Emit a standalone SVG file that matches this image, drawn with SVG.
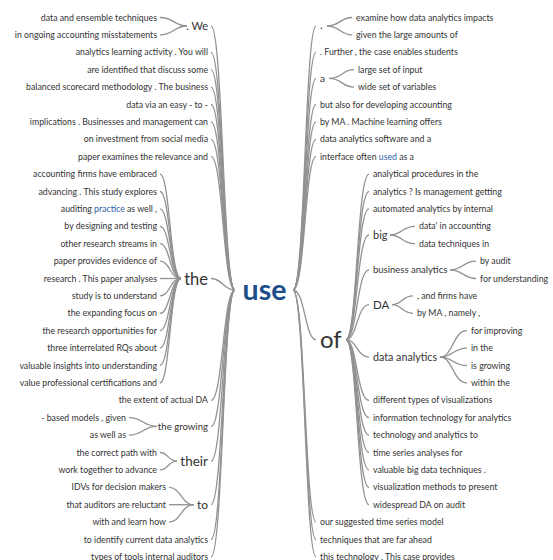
<svg xmlns="http://www.w3.org/2000/svg" width="553" height="560" viewBox="0 0 553 560">
  <style>
    text { font-family: Lato, "Open Sans", "Liberation Sans", sans-serif; fill: #333; }
    .leaf { font-size: 8.75px; }
    .l { text-anchor: end; }
    .r { text-anchor: start; }
    .hl { fill: #2f63a8; }
    .root { font-size: 28.5px; font-weight: bold; fill: #1d4e89; text-anchor: middle; }
    .conn path { fill: none; stroke: #929292; stroke-width: 1.3; }
  </style>
  <rect width="553" height="560" fill="#ffffff"/>

  <!-- connectors: cubic curves from each parent edge to each child edge -->
  <g id="connectors" class="conn">
    <!-- use -> left children -->
    <path d="M235,290 C223,290 223,26 211,26"/>
    <path d="M235,290 C223,290 223,52.3 211,52.3"/>
    <path d="M235,290 C223,290 223,69.7 211,69.7"/>
    <path d="M235,290 C223,290 223,87.1 211,87.1"/>
    <path d="M235,290 C223,290 223,104.5 211,104.5"/>
    <path d="M235,290 C223,290 223,121.9 211,121.9"/>
    <path d="M235,290 C223,290 223,139.3 211,139.3"/>
    <path d="M235,290 C223,290 223,156.7 211,156.7"/>
    <path d="M235,290 C223,290 223,278.5 211,278.5"/>
    <path d="M235,290 C223,290 223,400.3 211,400.3"/>
    <path d="M235,290 C223,290 223,426.4 211,426.4"/>
    <path d="M235,290 C223,290 223,461.2 211,461.2"/>
    <path d="M235,290 C223,290 223,504.7 211,504.7"/>
    <path d="M235,290 C223,290 223,539.5 211,539.5"/>
    <path d="M235,290 C223,290 223,556.9 211,556.9"/>
    <!-- . We -> children -->
    <path d="M187,26 C174,26 174,17.5 160,17.5"/>
    <path d="M187,26 C174,26 174,34.9 160,34.9"/>
    <!-- the -> children -->
    <path d="M181,278.5 C170,278.5 170,174.1 160,174.1"/>
    <path d="M181,278.5 C170,278.5 170,191.5 160,191.5"/>
    <path d="M181,278.5 C170,278.5 170,208.9 160,208.9"/>
    <path d="M181,278.5 C170,278.5 170,226.3 160,226.3"/>
    <path d="M181,278.5 C170,278.5 170,243.7 160,243.7"/>
    <path d="M181,278.5 C170,278.5 170,261.1 160,261.1"/>
    <path d="M181,278.5 C170,278.5 170,278.5 160,278.5"/>
    <path d="M181,278.5 C170,278.5 170,295.9 160,295.9"/>
    <path d="M181,278.5 C170,278.5 170,313.3 160,313.3"/>
    <path d="M181,278.5 C170,278.5 170,330.7 160,330.7"/>
    <path d="M181,278.5 C170,278.5 170,348.1 160,348.1"/>
    <path d="M181,278.5 C170,278.5 170,365.5 160,365.5"/>
    <path d="M181,278.5 C170,278.5 170,382.9 160,382.9"/>
    <!-- the growing -> children -->
    <path d="M157,426.4 C143,426.4 143,417.7 129,417.7"/>
    <path d="M157,426.4 C143,426.4 143,435.1 129,435.1"/>
    <!-- their -> children -->
    <path d="M177,461.2 C168,461.2 168,452.5 160,452.5"/>
    <path d="M177,461.2 C168,461.2 168,469.9 160,469.9"/>
    <!-- to -> children -->
    <path d="M194,504.7 C181,504.7 181,487.3 169,487.3"/>
    <path d="M194,504.7 C181,504.7 181,504.7 169,504.7"/>
    <path d="M194,504.7 C181,504.7 181,522.1 169,522.1"/>

    <!-- use -> right children -->
    <path d="M293,290 C305,290 305,26 316,26"/>
    <path d="M293,290 C305,290 305,52.3 316,52.3"/>
    <path d="M293,290 C305,290 305,78.4 316,78.4"/>
    <path d="M293,290 C305,290 305,104.5 316,104.5"/>
    <path d="M293,290 C305,290 305,121.9 316,121.9"/>
    <path d="M293,290 C305,290 305,139.3 316,139.3"/>
    <path d="M293,290 C305,290 305,156.7 316,156.7"/>
    <path d="M293,290 C305,290 305,339.7 316,339.7"/>
    <path d="M293,290 C305,290 305,522.1 316,522.1"/>
    <path d="M293,290 C305,290 305,539.5 316,539.5"/>
    <path d="M293,290 C305,290 305,556.9 316,556.9"/>
    <!-- . -> children -->
    <path d="M327,26 C340,26 340,17.5 352,17.5"/>
    <path d="M327,26 C340,26 340,34.9 352,34.9"/>
    <!-- a -> children -->
    <path d="M329,78.4 C342,78.4 342,69.7 354,69.7"/>
    <path d="M329,78.4 C342,78.4 342,87.1 354,87.1"/>
    <!-- of -> children -->
    <path d="M346,339.7 C357,339.7 357,174.1 369,174.1"/>
    <path d="M346,339.7 C357,339.7 357,191.5 369,191.5"/>
    <path d="M346,339.7 C357,339.7 357,208.9 369,208.9"/>
    <path d="M346,339.7 C357,339.7 357,235 369,235"/>
    <path d="M346,339.7 C357,339.7 357,269.8 369,269.8"/>
    <path d="M346,339.7 C357,339.7 357,304.6 369,304.6"/>
    <path d="M346,339.7 C357,339.7 357,357.1 369,357.1"/>
    <path d="M346,339.7 C357,339.7 357,400.3 369,400.3"/>
    <path d="M346,339.7 C357,339.7 357,417.7 369,417.7"/>
    <path d="M346,339.7 C357,339.7 357,435.1 369,435.1"/>
    <path d="M346,339.7 C357,339.7 357,452.5 369,452.5"/>
    <path d="M346,339.7 C357,339.7 357,469.9 369,469.9"/>
    <path d="M346,339.7 C357,339.7 357,487.3 369,487.3"/>
    <path d="M346,339.7 C357,339.7 357,504.7 369,504.7"/>
    <!-- big -> children -->
    <path d="M390,235 C402,235 402,226.3 415,226.3"/>
    <path d="M390,235 C402,235 402,243.7 415,243.7"/>
    <!-- business analytics -> children -->
    <path d="M450,269.8 C463,269.8 463,261.1 476,261.1"/>
    <path d="M450,269.8 C463,269.8 463,278.5 476,278.5"/>
    <!-- DA -> children -->
    <path d="M392,304.6 C402,304.6 402,295.9 413,295.9"/>
    <path d="M392,304.6 C402,304.6 402,313.3 413,313.3"/>
    <!-- data analytics -> children -->
    <path d="M440,357.1 C453,357.1 453,330.7 467,330.7"/>
    <path d="M440,357.1 C453,357.1 453,348.1 467,348.1"/>
    <path d="M440,357.1 C453,357.1 453,365.5 467,365.5"/>
    <path d="M440,357.1 C453,357.1 453,382.9 467,382.9"/>
  </g>

  <!-- root -->
  <g id="node-use"><text class="root" x="264.5" y="299.5">use</text></g>

  <!-- left branch -->
  <g id="node-we"><text class="l" x="208" y="30" font-size="11">. We</text></g>
  <g id="node-we-1"><text class="leaf l" x="157" y="20.5">data and ensemble techniques</text></g>
  <g id="node-we-2"><text class="leaf l" x="157" y="37.9">in ongoing accounting misstatements</text></g>
  <g id="node-l2"><text class="leaf l" x="208" y="55.3">analytics learning activity . You will</text></g>
  <g id="node-l3"><text class="leaf l" x="208" y="72.7">are identified that discuss some</text></g>
  <g id="node-l4"><text class="leaf l" x="208" y="90.1">balanced scorecard methodology . The business</text></g>
  <g id="node-l5"><text class="leaf l" x="208" y="107.5">data via an easy - to -</text></g>
  <g id="node-l6"><text class="leaf l" x="208" y="124.9">implications . Businesses and management can</text></g>
  <g id="node-l7"><text class="leaf l" x="208" y="142.3">on investment from social media</text></g>
  <g id="node-l8"><text class="leaf l" x="208" y="159.7">paper examines the relevance and</text></g>

  <g id="node-the"><text class="l" x="208" y="284.5" font-size="16.5">the</text></g>
  <g id="node-the-1"><text class="leaf l" x="157" y="177.1">accounting firms have embraced</text></g>
  <g id="node-the-2"><text class="leaf l" x="157" y="194.5">advancing . This study explores</text></g>
  <g id="node-the-3"><text class="leaf l" x="157" y="211.9">auditing <tspan class="hl">practice</tspan> as well ,</text></g>
  <g id="node-the-4"><text class="leaf l" x="157" y="229.3">by designing and testing</text></g>
  <g id="node-the-5"><text class="leaf l" x="157" y="246.7">other research streams in</text></g>
  <g id="node-the-6"><text class="leaf l" x="157" y="264.1">paper provides evidence of</text></g>
  <g id="node-the-7"><text class="leaf l" x="157" y="281.5">research . This paper analyses</text></g>
  <g id="node-the-8"><text class="leaf l" x="157" y="298.9">study is to understand</text></g>
  <g id="node-the-9"><text class="leaf l" x="157" y="316.3">the expanding focus on</text></g>
  <g id="node-the-10"><text class="leaf l" x="157" y="333.7">the research opportunities for</text></g>
  <g id="node-the-11"><text class="leaf l" x="157" y="351.1">three interrelated RQs about</text></g>
  <g id="node-the-12"><text class="leaf l" x="157" y="368.5">valuable insights into understanding</text></g>
  <g id="node-the-13"><text class="leaf l" x="157" y="385.9">value professional certifications and</text></g>

  <g id="node-l22"><text class="leaf l" x="208" y="403.3">the extent of actual DA</text></g>
  <g id="node-growing"><text class="l" x="208" y="429.8" font-size="9.6">the growing</text></g>
  <g id="node-growing-1"><text class="leaf l" x="126" y="420.7">- based models , given</text></g>
  <g id="node-growing-2"><text class="leaf l" x="126" y="438.1">as well as</text></g>
  <g id="node-their"><text class="l" x="208" y="465.8" font-size="13.5">their</text></g>
  <g id="node-their-1"><text class="leaf l" x="157" y="455.5">the correct path with</text></g>
  <g id="node-their-2"><text class="leaf l" x="157" y="472.9">work together to advance</text></g>
  <g id="node-to"><text class="l" x="208" y="509" font-size="12">to</text></g>
  <g id="node-to-1"><text class="leaf l" x="166" y="490.3">IDVs for decision makers</text></g>
  <g id="node-to-2"><text class="leaf l" x="166" y="507.7">that auditors are reluctant</text></g>
  <g id="node-to-3"><text class="leaf l" x="166" y="525.1">with and learn how</text></g>
  <g id="node-l30"><text class="leaf l" x="208" y="542.5">to identify current data analytics</text></g>
  <g id="node-l31"><text class="leaf l" x="208" y="559.9">types of tools internal auditors</text></g>

  <!-- right branch -->
  <g id="node-dot"><text class="r" x="320" y="29" font-size="11">.</text></g>
  <g id="node-dot-1"><text class="leaf r" x="356" y="20.5">examine how data analytics impacts</text></g>
  <g id="node-dot-2"><text class="leaf r" x="356" y="37.9">given the large amounts of</text></g>
  <g id="node-r2"><text class="leaf r" x="320" y="55.3">. Further , the case enables students</text></g>
  <g id="node-a"><text class="r" x="320" y="82" font-size="10">a</text></g>
  <g id="node-a-1"><text class="leaf r" x="358" y="72.7">large set of input</text></g>
  <g id="node-a-2"><text class="leaf r" x="358" y="90.1">wide set of variables</text></g>
  <g id="node-r5"><text class="leaf r" x="320" y="107.5">but also for developing accounting</text></g>
  <g id="node-r6"><text class="leaf r" x="320" y="124.9">by MA . Machine learning offers</text></g>
  <g id="node-r7"><text class="leaf r" x="320" y="142.3">data analytics software and a</text></g>
  <g id="node-r8"><text class="leaf r" x="320" y="159.7">interface often <tspan class="hl">used</tspan> as a</text></g>

  <g id="node-of"><text class="r" x="320" y="347.5" font-size="24">of</text></g>
  <g id="node-of-1"><text class="leaf r" x="373" y="177.1">analytical procedures in the</text></g>
  <g id="node-of-2"><text class="leaf r" x="373" y="194.5">analytics ? Is management getting</text></g>
  <g id="node-of-3"><text class="leaf r" x="373" y="211.9">automated analytics by internal</text></g>
  <g id="node-big"><text class="r" x="373" y="239" font-size="11">big</text></g>
  <g id="node-big-1"><text class="leaf r" x="419" y="229.3">data' in accounting</text></g>
  <g id="node-big-2"><text class="leaf r" x="419" y="246.7">data techniques in</text></g>
  <g id="node-ba"><text class="r" x="373" y="273.2" font-size="9.5">business analytics</text></g>
  <g id="node-ba-1"><text class="leaf r" x="480" y="264.1">by audit</text></g>
  <g id="node-ba-2"><text class="leaf r" x="480" y="281.5">for understanding</text></g>
  <g id="node-da"><text class="r" x="373" y="308.6" font-size="11.5">DA</text></g>
  <g id="node-da-1"><text class="leaf r" x="417" y="298.9">, and firms have</text></g>
  <g id="node-da-2"><text class="leaf r" x="417" y="316.3">by MA , namely ,</text></g>
  <g id="node-dan"><text class="r" x="373" y="361" font-size="10.7">data analytics</text></g>
  <g id="node-dan-1"><text class="leaf r" x="471" y="333.7">for improving</text></g>
  <g id="node-dan-2"><text class="leaf r" x="471" y="351.1">in the</text></g>
  <g id="node-dan-3"><text class="leaf r" x="471" y="368.5">is growing</text></g>
  <g id="node-dan-4"><text class="leaf r" x="471" y="385.9">within the</text></g>
  <g id="node-of-8"><text class="leaf r" x="373" y="403.3">different types of visualizations</text></g>
  <g id="node-of-9"><text class="leaf r" x="373" y="420.7">information technology for analytics</text></g>
  <g id="node-of-10"><text class="leaf r" x="373" y="438.1">technology and analytics to</text></g>
  <g id="node-of-11"><text class="leaf r" x="373" y="455.5">time series analyses for</text></g>
  <g id="node-of-12"><text class="leaf r" x="373" y="472.9">valuable big data techniques .</text></g>
  <g id="node-of-13"><text class="leaf r" x="373" y="490.3">visualization methods to present</text></g>
  <g id="node-of-14"><text class="leaf r" x="373" y="507.7">widespread DA on audit</text></g>
  <g id="node-r29"><text class="leaf r" x="320" y="525.1">our suggested time series model</text></g>
  <g id="node-r30"><text class="leaf r" x="320" y="542.5">techniques that are far ahead</text></g>
  <g id="node-r31"><text class="leaf r" x="320" y="559.9">this technology . This case provides</text></g>
</svg>
